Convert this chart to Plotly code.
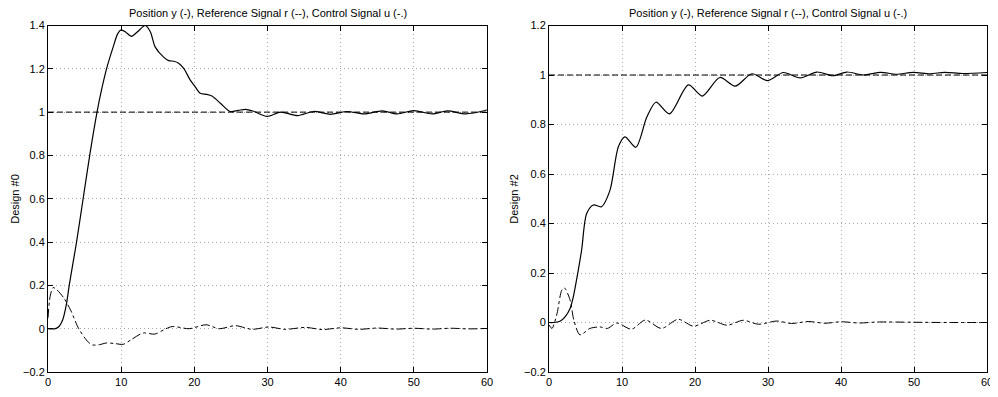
import plotly.graph_objects as go

# ---------------- data ----------------
# Design #0 (left)
t_y0 = [0, 1, 1.5, 2, 2.5, 2.9, 3.4, 3.9, 4.8, 5.7, 6.7, 7.3, 8.0, 8.9, 9.5, 10.0, 10.6,
        11.4, 12.2, 13.3, 14.0, 14.66, 15.8, 16.5, 17.2, 17.85, 18.6, 19.4, 20.1, 20.8,
        21.7, 22.4, 23.6, 24.9, 26.0, 27.0, 28.0, 29.95, 31.8, 34.1, 36.3, 38.6, 40.9,
        43.2, 45.7, 47.7, 50.0, 52.5, 54.6, 57.1, 60]
y0 = [0, 0.0, 0.01, 0.04, 0.11, 0.2, 0.3, 0.4, 0.6, 0.8, 1.0, 1.1, 1.2, 1.3, 1.36, 1.38, 1.37,
      1.35, 1.37, 1.40, 1.37, 1.30, 1.254, 1.238, 1.235, 1.226, 1.2, 1.15, 1.118, 1.087,
      1.082, 1.074, 1.04, 1.003, 1.008, 1.013, 1.005, 0.98, 1.0, 0.984, 1.003, 0.99, 1.003,
      0.992, 1.006, 0.992, 1.007, 0.992, 1.006, 0.992, 1.01]

t_u0 = [0, 0.3, 0.7, 1.2, 2.2, 3.1, 4.2, 5.5, 6.1, 7.0, 8.0, 9.0, 10.3, 11.4, 13.0, 14.6,
        16.0, 17.0, 19.3, 21.6, 23.4, 25.6, 27.9, 30.2, 32.4, 35.2, 37.5, 40, 42.5, 45,
        47.5, 50, 52.5, 55, 57.5, 60]
u0 = [0.05, 0.15, 0.19, 0.18, 0.14, 0.085, 0.0, -0.062, -0.075, -0.074, -0.066, -0.068,
      -0.072, -0.05, -0.02, -0.025, -0.002, 0.01, 0.0, 0.018, 0.0, 0.014, -0.003, 0.008,
      -0.003, 0.006, -0.004, 0.004, -0.003, 0.003, -0.002, 0.002, -0.002, 0.002, -0.001, 0.001]

# Design #2 (right)
t_y2 = [0, 0.6, 1.5, 2.2, 2.9, 3.3, 4.0, 4.47, 5.16, 6.07, 7.2, 8.36, 9.5, 10.4, 11.9, 13.4,
        14.66, 16.5, 19.1, 21.0, 23.4, 25.5, 27.8, 29.95, 32.1, 34.4, 36.7, 38.9, 40.8,
        43.1, 45.4, 47.6, 49.9, 52.2, 54.2, 56.7, 60]
y2 = [0, 0.0, 0.005, 0.023, 0.058, 0.1, 0.21, 0.293, 0.44, 0.475, 0.468, 0.535, 0.71, 0.75,
      0.708, 0.83, 0.89, 0.843, 0.96, 0.915, 0.99, 0.955, 1.005, 0.977, 1.01, 0.988, 1.012,
      0.997, 1.012, 1.0, 1.011, 1.003, 1.011, 1.005, 1.011, 1.006, 1.01]

t_u2 = [0, 0.4, 1.05, 1.74, 2.1, 2.9, 3.4, 4.25, 5.6, 7.0, 8.0, 9.3, 11.3, 13.2, 15.4, 17.7,
        19.8, 22.1, 24.4, 26.6, 28.7, 31.2, 33.2, 35.5, 37.8, 40, 42.5, 45, 50, 55, 60]
u2 = [-0.01, -0.024, 0.03, 0.13, 0.14, 0.09, 0.01, -0.05, -0.024, -0.018, -0.024, -0.002,
      -0.027, 0.01, -0.024, 0.013, -0.015, 0.009, -0.011, 0.009, -0.007, 0.006, -0.004,
      0.004, -0.003, 0.003, -0.002, 0.002, 0.001, 0.0, 0.0]

t_ref = [0, 60]
r_ref = [1, 1]

title_text = "Position y (-), Reference Signal r (--), Control Signal u (-.)"
ylabels = ["Design #0", "Design #2"]
x_ticks = [0, 10, 20, 30, 40, 50, 60]
y_ticks_left = [-0.2, 0, 0.2, 0.4, 0.6, 0.8, 1, 1.2, 1.4]
y_ticks_right = [-0.2, 0, 0.2, 0.4, 0.6, 0.8, 1, 1.2]

# ---------------- figure ----------------
# The page body has an 8px margin, so the figure is drawn at an 8px offset.
OFF = 8
W, H = 998 - OFF, 397 - OFF
FONT = "Liberation Sans, Arial, Helvetica, sans-serif"

def px_x(p):
    return (p - OFF) / W

def px_y(p):
    return 1 - (p - OFF) / H

fig = go.Figure()

def add_panel(xa, ya, t_y, y, t_u, u):
    fig.add_trace(go.Scatter(x=t_ref, y=r_ref, mode="lines", xaxis=xa, yaxis=ya,
                             line=dict(color="black", width=1, dash="6px,3px"),
                             showlegend=False, hoverinfo="skip"))
    fig.add_trace(go.Scatter(x=t_u, y=u, mode="lines", xaxis=xa, yaxis=ya,
                             line=dict(color="black", width=1, dash="dashdot",
                                       shape="spline", smoothing=0.8),
                             showlegend=False))
    fig.add_trace(go.Scatter(x=t_y, y=y, mode="lines", xaxis=xa, yaxis=ya,
                             line=dict(color="black", width=1.2, shape="spline", smoothing=0.8),
                             showlegend=False))

add_panel("x", "y", t_y0, y0, t_u0, u0)
add_panel("x2", "y2", t_y2, y2, t_u2, u2)

top = px_y(25.5)
bot = px_y(372)
dom_l = [px_x(48), px_x(487)]
dom_r = [px_x(549), px_x(987)]

axis_common = dict(
    showline=True, linecolor="black", linewidth=1, mirror="allticks",
    ticks="inside", ticklen=5, tickcolor="black", tickwidth=1,
    showgrid=True, gridcolor="#a8a8a8", gridwidth=1, griddash="1px,3px",
    zeroline=False, automargin=False,
    tickfont=dict(family=FONT, size=11, color="black"),
)

fig.update_layout(
    width=W, height=H,
    margin=dict(l=0, r=0, t=0, b=0),
    paper_bgcolor="white", plot_bgcolor="white",
    font=dict(family=FONT, size=11, color="black"),
    xaxis=dict(domain=dom_l, anchor="y", range=[0, 60], tickvals=x_ticks, **axis_common),
    yaxis=dict(domain=[bot, top], anchor="x", range=[-0.2, 1.4], tickvals=y_ticks_left,
               ticktext=[("\u22120.2" if v < 0 else ("%g" % v)) for v in y_ticks_left],
               **axis_common),
    xaxis2=dict(domain=dom_r, anchor="y2", range=[0, 60], tickvals=x_ticks, **axis_common),
    yaxis2=dict(domain=[bot, top], anchor="x2", range=[-0.2, 1.2], tickvals=y_ticks_right,
                ticktext=[("\u22120.2" if v < 0 else ("%g" % v)) for v in y_ticks_right],
                **axis_common),
)

annotations = []
for dom in (dom_l, dom_r):
    annotations.append(dict(text=title_text, xref="paper", yref="paper",
                            x=(dom[0] + dom[1]) / 2, y=px_y(13), xanchor="center",
                            yanchor="middle", showarrow=False,
                            font=dict(family=FONT, size=11, color="black")))
for xpix, lab in ((15, ylabels[0]), (514, ylabels[1])):
    annotations.append(dict(text=lab, xref="paper", yref="paper", x=px_x(xpix),
                            y=(bot + top) / 2, xanchor="center", yanchor="middle",
                            textangle=-90, showarrow=False,
                            font=dict(family=FONT, size=11, color="black")))
fig.update_layout(annotations=annotations)

fig.write_html("out.html")
